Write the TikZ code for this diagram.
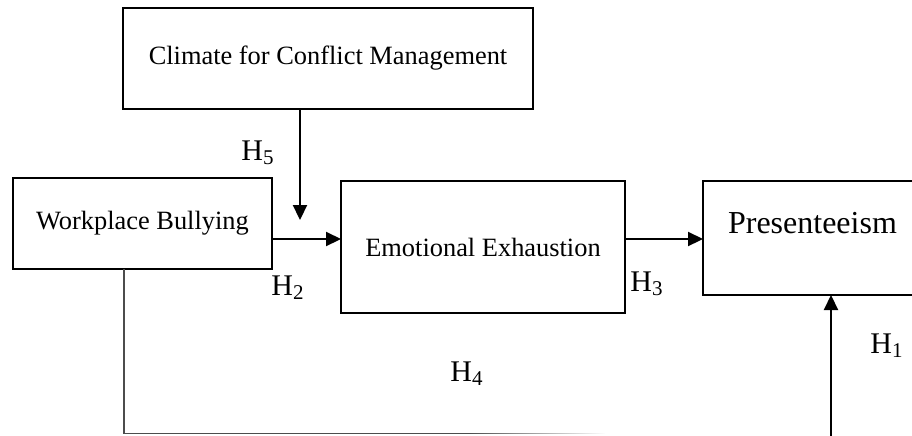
\documentclass[tikz,border=0pt]{standalone}
\usepackage{fontspec}
\setmainfont{Liberation Serif}
\usetikzlibrary{arrows.meta, positioning, fadings}

\begin{document}
\begin{tikzpicture}[
    x=0.5pt, y=-0.5pt,
    box/.style={rectangle, draw, line width=0.9pt, inner sep=0pt, outer sep=0pt, align=center, font=\fontsize{13.2}{15}\selectfont},
    hlabel/.style={inner sep=0pt, font=\fontsize{15}{17}\selectfont},
    arrow/.style={-{Triangle[length=7.5pt, width=7pt]}, line width=1.1pt},
    ]
    \useasboundingbox (0,0) rectangle (912,435);
    \clip (0,0) rectangle (912,435);

    % Nodes
    \node[box, minimum width=205pt, minimum height=50.5pt] (climate) at (328,58.5) {Climate for Conflict Management};
    \node[box, minimum width=129.5pt, minimum height=45.5pt] (bullying) at (142.5,223.5) {Workplace Bullying};
    \node[box, minimum width=142pt, minimum height=66pt] (exhaustion) at (483,247) {Emotional Exhaustion};
    \node[box, minimum width=109.5pt, minimum height=57pt, font=\fontsize{16}{18}\selectfont, text height=11pt, text depth=16pt] (presenteeism) at (812.5,238) {Presenteeism};

    \coordinate (moderator) at (300,220);
    \coordinate (corner) at (124,433.5);
    \coordinate (fadestart) at (470,433.5);
    \coordinate (fadeend) at (605,433.5);
    \coordinate (h1foot) at (831,440);

    % Labels
    \node[hlabel] (h5) at (258,153) {H\textsubscript{5}};
    \node[hlabel] (h2) at (288,288) {H\textsubscript{2}};
    \node[hlabel] (h3) at (647,284) {H\textsubscript{3}};
    \node[hlabel] (h4) at (467,374) {H\textsubscript{4}};
    \node[hlabel] (h1) at (887,346) {H\textsubscript{1}};

    % Edges
    \draw[arrow] (climate.south -| moderator) -- (moderator);
    \draw[arrow] ([yshift=-7.75pt]bullying.east) -- ([yshift=-7.75pt]bullying.east -| exhaustion.west);
    \draw[arrow] ([yshift=4pt]exhaustion.east) -- ([yshift=4pt]exhaustion.east -| presenteeism.west);
    \draw[arrow] (h1foot) -- (h1foot |- presenteeism.south);
    \draw[line width=0.9pt, black!70] (corner |- bullying.south) -- (corner) -- (fadestart);
    \draw[line width=0.9pt, black!70, path fading=east] (fadestart) -- (fadeend);
\end{tikzpicture}
\end{document}
